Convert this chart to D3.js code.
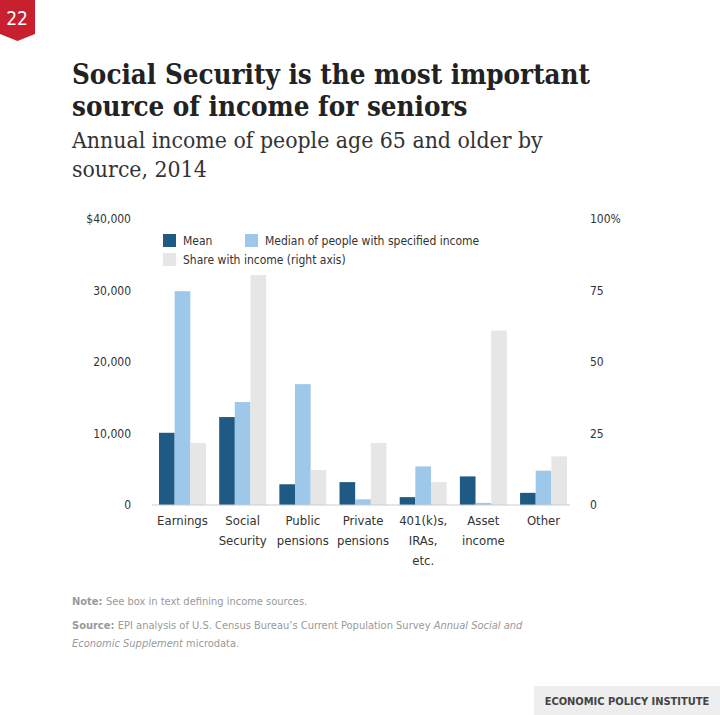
<!DOCTYPE html>
<html><head><meta charset="utf-8">
<script src="https://cdn.jsdelivr.net/npm/d3@7"></script>
<style>body{margin:0;background:#fff}</style>
</head><body>
<script>
// Chart data
var categories = [["Earnings"], ["Social", "Security"], ["Public", "pensions"], ["Private", "pensions"], ["401(k)s,", "IRAs,", "etc."], ["Asset", "income"], ["Other"]];
var meanValues = [10100, 12300, 2900, 3200, 1100, 4000, 1700];
var medianValues = [29900, 14400, 16900, 800, 5400, 300, 4800];
var shareValues = [21.7, 80.4, 12.2, 21.7, 8, 61, 17];
var leftTicks = [0, 10000, 20000, 30000, 40000];
var rightTicks = [0, 25, 50, 75, 100];

var W = 720, H = 715;
var cond = "'DejaVu Sans Condensed', 'DejaVu Sans', sans-serif";
var svg = d3.select("body").append("svg").attr("width", W).attr("height", H);

// Page number tab
svg.append("path").attr("d", "M0,0H35V34L17.5,41L0,34Z").attr("fill", "#c8202f");
svg.append("text").attr("x", 17).attr("y", 25).attr("text-anchor", "middle")
  .attr("fill", "#fff").attr("font-family", cond).attr("font-size", 19).text("22");

// Titles
var title = svg.append("text").attr("font-family", "'DejaVu Serif Condensed', 'DejaVu Serif', serif")
  .attr("font-weight", "bold").attr("font-size", 27.5).attr("fill", "#222");
title.append("tspan").attr("x", 72).attr("y", 84).text("Social Security is the most important");
title.append("tspan").attr("x", 72).attr("y", 116).text("source of income for seniors");
var sub = svg.append("text").attr("font-family", "'DejaVu Serif Condensed', 'DejaVu Serif', serif")
  .attr("font-size", 22.8).attr("fill", "#333");
sub.append("tspan").attr("x", 72).attr("y", 148).text("Annual income of people age 65 and older by");
sub.append("tspan").attr("x", 72).attr("y", 177).text("source, 2014");

// Scales
var x0 = d3.scaleBand().domain(d3.range(categories.length)).range([156, 570]).paddingInner(0.22).paddingOuter(0.05);
var x1 = d3.scaleBand().domain([0, 1, 2]).range([0, x0.bandwidth()]);
var yL = d3.scaleLinear().domain([0, 40000]).range([505, 219]);
var yR = d3.scaleLinear().domain([0, 100]).range([505, 219]);

var g = svg.append("g");
var series = [
  { vals: meanValues, y: yL, color: "#1f5a85" },
  { vals: medianValues, y: yL, color: "#9ec8ea" },
  { vals: shareValues, y: yR, color: "#e6e6e6" }
];
series.forEach(function(s, si) {
  g.selectAll(null).data(s.vals).enter().append("rect")
    .attr("x", function(d, i) { return x0(i) + x1(si); })
    .attr("width", x1.bandwidth())
    .attr("y", function(d) { return s.y(d); })
    .attr("height", function(d) { return 505 - s.y(d); })
    .attr("fill", s.color);
});

// Baseline
g.append("line").attr("x1", 152).attr("x2", 570).attr("y1", 505).attr("y2", 505)
  .attr("stroke", "#ccc").attr("stroke-width", 1.2);

// Axes
var axL = svg.append("g").attr("transform", "translate(134,0)")
  .call(d3.axisLeft(yL).tickValues(leftTicks).tickSize(0)
    .tickFormat(function(d) { return (d === 40000 ? "$" : "") + (d === 0 ? "0" : d3.format(",")(d)); }));
var axR = svg.append("g").attr("transform", "translate(587,0)")
  .call(d3.axisRight(yR).tickValues(rightTicks).tickSize(0)
    .tickFormat(function(d) { return d === 100 ? "100%" : d; }));
[axL, axR].forEach(function(a) {
  a.select(".domain").remove();
  a.selectAll("text").attr("font-family", cond).attr("font-size", 12).attr("fill", "#333");
});

// Category labels
var lab = svg.append("g");
categories.forEach(function(lines, i) {
  var t = lab.append("text").attr("text-anchor", "middle").attr("font-family", cond)
    .attr("font-size", 13).attr("fill", "#333");
  lines.forEach(function(l, j) {
    t.append("tspan").attr("x", x0(i) + x0.bandwidth() / 2).attr("y", 525 + j * 20).text(l);
  });
});

// Legend
var legend = [
  { x: 163, y: 234, c: "#1f5a85", t: "Mean" },
  { x: 245, y: 234, c: "#9ec8ea", t: "Median of people with specified income" },
  { x: 163, y: 253, c: "#e6e6e6", t: "Share with income (right axis)" }
];
legend.forEach(function(l) {
  svg.append("rect").attr("x", l.x).attr("y", l.y).attr("width", 13).attr("height", 13).attr("fill", l.c);
  svg.append("text").attr("x", l.x + 20).attr("y", l.y + 11).attr("font-family", cond)
    .attr("font-size", 12).attr("fill", "#333").text(l.t);
});

// Notes
var nf = svg.append("g").attr("font-family", cond).attr("font-size", 11).attr("fill", "#999");
var n1 = nf.append("text").attr("x", 72).attr("y", 605);
n1.append("tspan").attr("font-weight", "bold").text("Note: ");
n1.append("tspan").text("See box in text defining income sources.");
var n2 = nf.append("text").attr("x", 72).attr("y", 629);
n2.append("tspan").attr("font-weight", "bold").text("Source: ");
n2.append("tspan").text("EPI analysis of U.S. Census Bureau\u2019s Current Population Survey ");
n2.append("tspan").attr("font-style", "italic").text("Annual Social and");
var n3 = nf.append("text").attr("x", 72).attr("y", 647);
n3.append("tspan").attr("font-style", "italic").text("Economic Supplement");
n3.append("tspan").text(" microdata.");

// EPI box
svg.append("rect").attr("x", 534).attr("y", 686).attr("width", 186).attr("height", 29).attr("fill", "#eee");
svg.append("text").attr("x", 627).attr("y", 705).attr("text-anchor", "middle").attr("font-family", cond)
  .attr("font-weight", "bold").attr("font-size", 11).attr("fill", "#444").text("ECONOMIC POLICY INSTITUTE");
</script>
</body></html>
